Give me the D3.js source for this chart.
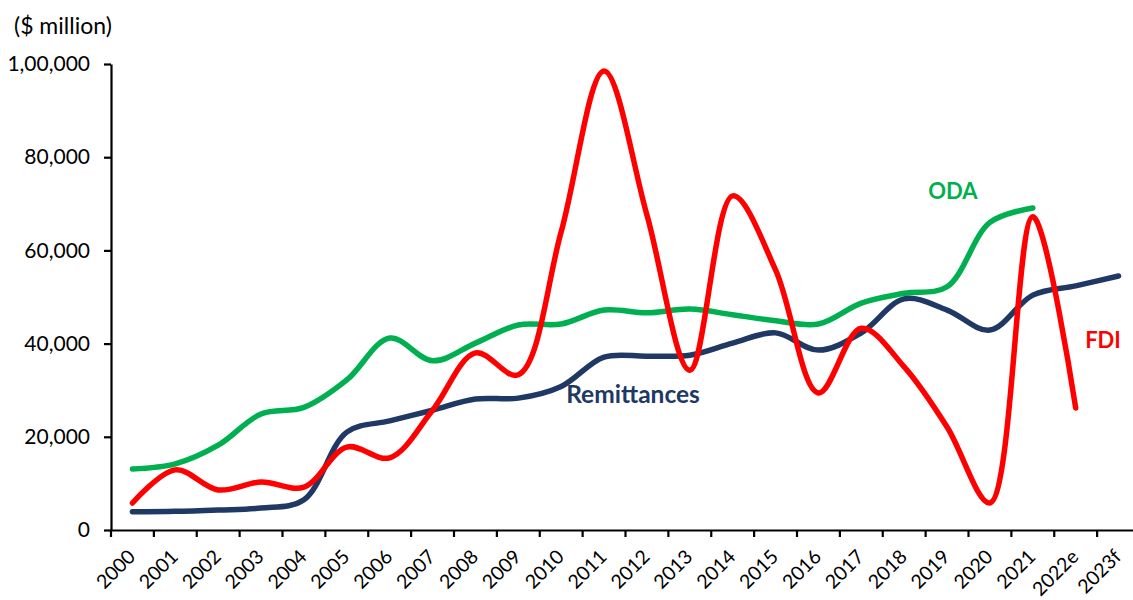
<!DOCTYPE html>
<html>
<head>
<meta charset="utf-8">
<script src="https://cdn.jsdelivr.net/npm/d3@7"></script>
<style>
  html, body { margin: 0; padding: 0; background: #fff; }
  svg { display: block; }
  text { font-family: Lato, "Open Sans", sans-serif; }
</style>
</head>
<body>
<svg id="chart" width="1133" height="600"></svg>
<script>
// Years on the category axis
const years = ["2000","2001","2002","2003","2004","2005","2006","2007","2008","2009","2010","2011",
               "2012","2013","2014","2015","2016","2017","2018","2019","2020","2021","2022e","2023f"];

// Inflows, $ million
const remittances = [3900, 4000, 4300, 4700, 6500, 21000, 23400, 25700, 28100, 28300, 30800, 37100,
                     37300, 37500, 40100, 42300, 38600, 42300, 49600, 47200, 42900, 50400, 52400, 54500];
const oda = [13100, 14200, 18200, 24900, 26300, 32200, 41200, 36300, 40100, 44000, 44200, 47200,
             46600, 47400, 46200, 44900, 44200, 48700, 50800, 52200, 66000, 69100, null, null];
const fdi = [5800, 12900, 8600, 10300, 9200, 17800, 15500, 25700, 38000, 33300, 64000, 98500,
             67600, 34300, 71700, 55800, 29400, 43300, 35000, 22100, 5800, 67200, 26200, null];

// Value axis ticks and their labels (Indian digit grouping)
const yTicks = [0, 20000, 40000, 60000, 80000, 100000];
const yTickLabels = ["0", "20,000", "40,000", "60,000", "80,000", "1,00,000"];

const seriesColors = { Remittances: "#203864", ODA: "#00B050", FDI: "#FF0000" };

const svg = d3.select("#chart");

const x = d3.scaleBand().domain(years).range([111, 1140]).padding(0);
const y = d3.scaleLinear().domain([0, 100000]).range([530, 64]);

// Unit caption
svg.append("text")
  .attr("x", 14).attr("y", 34)
  .attr("font-size", 23).attr("fill", "#000")
  .text("($ million)");

// Value axis
const yAxis = d3.axisLeft(y)
  .tickValues(yTicks)
  .tickFormat((d, i) => yTickLabels[i])
  .tickSize(7).tickPadding(14).tickSizeOuter(0);
const gy = svg.append("g").attr("transform", "translate(111,0)").call(yAxis);
gy.select(".domain").attr("stroke", "#000").attr("stroke-width", 2.2);
gy.selectAll(".tick line").attr("stroke", "#000").attr("stroke-width", 2.2);
gy.selectAll(".tick text").attr("font-size", 21).attr("fill", "#000")
  .attr("font-family", "Lato, 'Open Sans', sans-serif");

// Category axis: ticks sit on band boundaries
const xAxis = d3.axisBottom(x).tickSize(0).tickPadding(0);
const gx = svg.append("g").attr("transform", "translate(0,530)").call(xAxis);
gx.select(".domain").attr("stroke", "#000").attr("stroke-width", 2.2);
gx.selectAll(".tick").remove();
const bounds = years.map(d => x(d)).concat([x(years[years.length - 1]) + x.bandwidth()]);
gx.selectAll("line.bound").data(bounds).join("line")
  .attr("class", "bound")
  .attr("x1", d => d).attr("x2", d => d)
  .attr("y1", 0).attr("y2", 7)
  .attr("stroke", "#000").attr("stroke-width", 2.2);
gx.selectAll("text.year").data(years).join("text")
  .attr("class", "year")
  .attr("transform", d => `translate(${x(d) + x.bandwidth() / 2 + 4},${28}) rotate(-45)`)
  .attr("text-anchor", "end")
  .attr("font-size", 19.5).attr("fill", "#000")
  .text(d => d);

// Smoothed series lines
const series = { Remittances: remittances, ODA: oda, FDI: fdi };
const line = d3.line()
  .defined(d => d.v != null)
  .x(d => x(d.year) + x.bandwidth() / 2)
  .y(d => y(d.v))
  .curve(d3.curveCatmullRom.alpha(0.5));

["ODA", "Remittances", "FDI"].forEach(name => {
  const pts = years.map((yr, i) => ({ year: yr, v: series[name][i] })).filter(d => d.v != null);
  svg.append("path")
    .datum(pts)
    .attr("fill", "none")
    .attr("stroke", seriesColors[name])
    .attr("stroke-width", 5.5)
    .attr("stroke-linecap", "round")
    .attr("stroke-linejoin", "round")
    .attr("d", line);
});

// Series labels
const labels = [
  { name: "ODA", x: 953, y: 199, size: 22 },
  { name: "FDI", x: 1103, y: 348, size: 22 },
  { name: "Remittances", x: 633, y: 403, size: 24.5 }
];
svg.selectAll("text.series").data(labels).join("text")
  .attr("class", "series")
  .attr("x", d => d.x).attr("y", d => d.y)
  .attr("text-anchor", "middle")
  .attr("font-family", "'Open Sans', Lato, sans-serif")
  .attr("font-size", d => d.size).attr("font-weight", "bold")
  .attr("fill", d => seriesColors[d.name])
  .text(d => d.name);
</script>
</body>
</html>
